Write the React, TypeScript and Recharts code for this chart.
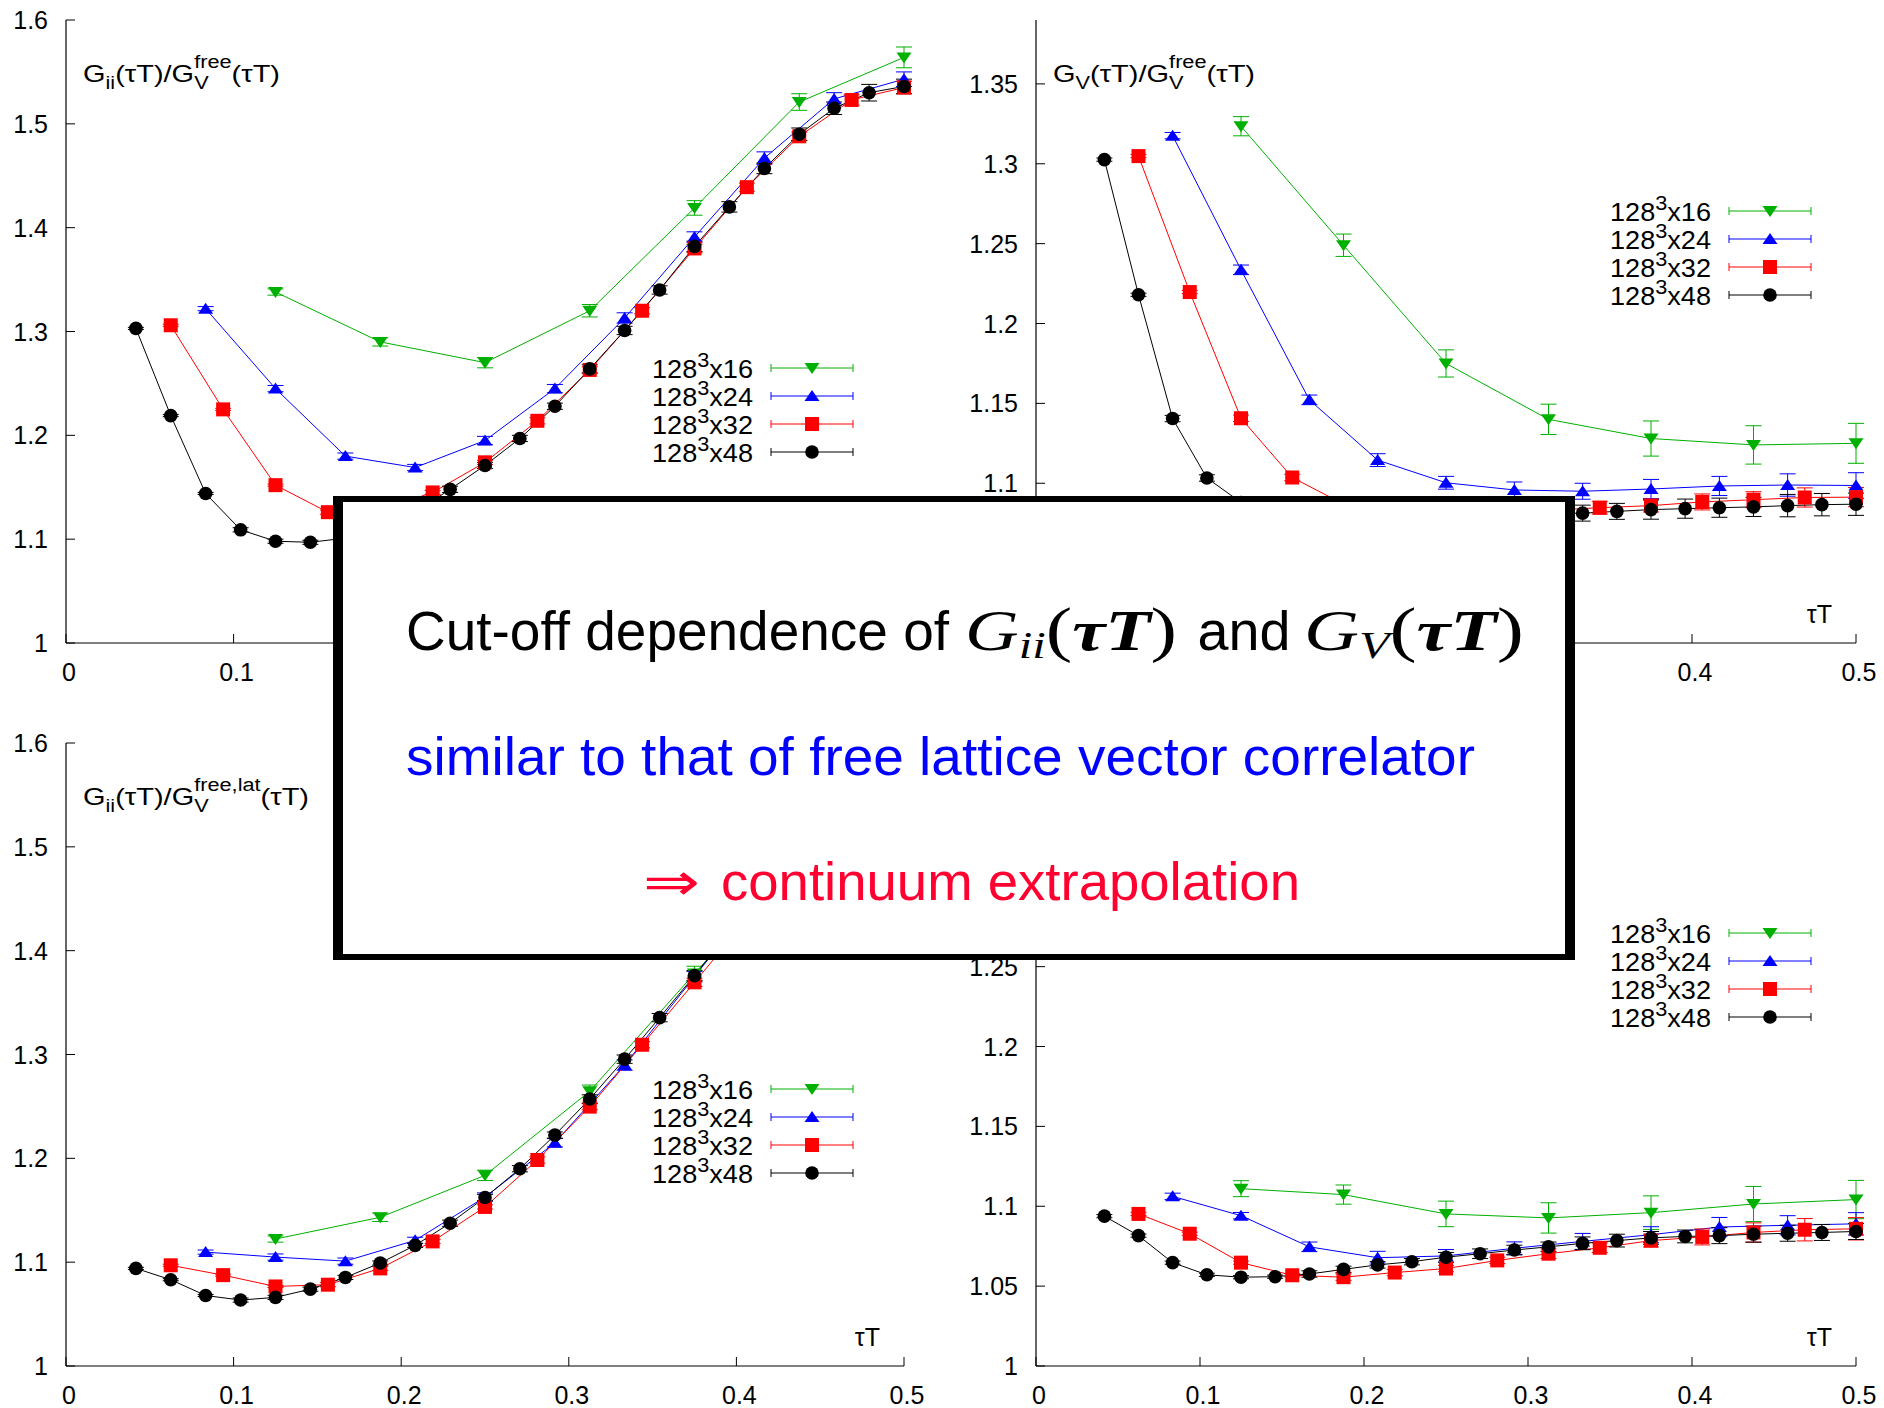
import { LineChart, Line, XAxis, YAxis, ErrorBar, Legend } from 'recharts';

const SANS = '"Liberation Sans", Arial, Helvetica, sans-serif';
const SERIF = '"Liberation Serif", "DejaVu Serif", serif';

// tau*T positions of the four lattices (N_tau = 16, 24, 32, 48)
const tau16 = [0.125, 0.1875, 0.25, 0.3125, 0.375, 0.4375, 0.5];
const tau24 = [0.0833, 0.125, 0.1667, 0.2083, 0.25, 0.2917, 0.3333, 0.375, 0.4167, 0.4583, 0.5];
const tau32 = [0.0625, 0.09375, 0.125, 0.15625, 0.1875, 0.21875, 0.25, 0.28125, 0.3125, 0.34375, 0.375, 0.40625, 0.4375, 0.46875, 0.5];
const tau48 = [0.0417, 0.0625, 0.0833, 0.1042, 0.125, 0.1458, 0.1667, 0.1875, 0.2083, 0.2292, 0.25, 0.2708, 0.2917, 0.3125, 0.3333, 0.3542, 0.375, 0.3958, 0.4167, 0.4375, 0.4583, 0.4792, 0.5];

// top left: G_ii / G_V^free
const iiFree16 = [1.338, 1.29, 1.27, 1.32, 1.419, 1.521, 1.564];
const iiFree16Err = [0.003, 0.004, 0.005, 0.006, 0.007, 0.008, 0.01];
const iiFree24 = [1.322, 1.245, 1.18, 1.169, 1.195, 1.245, 1.313, 1.391, 1.467, 1.524, 1.543];
const iiFree24Err = [0.002, 0.003, 0.003, 0.003, 0.004, 0.004, 0.005, 0.005, 0.006, 0.006, 0.007];
const iiFree32 = [1.306, 1.225, 1.152, 1.126, 1.128, 1.145, 1.174, 1.214, 1.263, 1.32, 1.38, 1.439, 1.488, 1.523, 1.535];
const iiFree32Err = [0.001, 0.001, 0.001, 0.002, 0.002, 0.002, 0.002, 0.003, 0.003, 0.003, 0.004, 0.004, 0.004, 0.005, 0.006];
const iiFree48 = [1.303, 1.219, 1.144, 1.109, 1.098, 1.097, 1.101, 1.11, 1.126, 1.148, 1.171, 1.197, 1.228, 1.264, 1.301, 1.34, 1.382, 1.42, 1.457, 1.49, 1.515, 1.53, 1.536];
const iiFree48Err = [0.001, 0.001, 0.001, 0.002, 0.002, 0.002, 0.002, 0.002, 0.002, 0.003, 0.003, 0.003, 0.003, 0.004, 0.004, 0.004, 0.005, 0.005, 0.005, 0.006, 0.006, 0.008, 0.007];

// top right: G_V / G_V^free
const vFree16 = [1.3235, 1.249, 1.175, 1.14, 1.128, 1.124, 1.125];
const vFree16Err = [0.006, 0.007, 0.0085, 0.0095, 0.011, 0.012, 0.0125];
const vFree24 = [1.3176, 1.2336, 1.1522, 1.1145, 1.1003, 1.0958, 1.095, 1.0964, 1.0983, 1.0989, 1.0986];
const vFree24Err = [0.002, 0.003, 0.003, 0.004, 0.004, 0.005, 0.005, 0.006, 0.006, 0.007, 0.008];
const vFree32 = [1.3048, 1.2197, 1.1407, 1.1036, 1.087, 1.082, 1.08, 1.081, 1.083, 1.0847, 1.086, 1.0883, 1.0897, 1.0911, 1.0913];
const vFree32Err = [0.001, 0.001, 0.002, 0.002, 0.002, 0.003, 0.003, 0.003, 0.004, 0.004, 0.004, 0.005, 0.005, 0.006, 0.006];
const vFree48 = [1.3026, 1.218, 1.1405, 1.1033, 1.088, 1.081, 1.078, 1.077, 1.077, 1.078, 1.079, 1.08, 1.08, 1.081, 1.0813, 1.0824, 1.0835, 1.0841, 1.0847, 1.0852, 1.086, 1.0866, 1.0869];
const vFree48Err = [0.001, 0.001, 0.002, 0.002, 0.002, 0.003, 0.003, 0.003, 0.003, 0.004, 0.004, 0.004, 0.005, 0.005, 0.005, 0.005, 0.006, 0.006, 0.006, 0.006, 0.007, 0.007, 0.007];

// bottom left: G_ii / G_V^free,lat
const iiLat16 = [1.1223, 1.1432, 1.1836, 1.2646, 1.378, 1.49, 1.56];
const iiLat16Err = [0.003, 0.004, 0.005, 0.006, 0.007, 0.008, 0.01];
const iiLat24 = [1.1097, 1.1049, 1.101, 1.121, 1.1627, 1.215, 1.2898, 1.375, 1.46, 1.52, 1.55];
const iiLat24Err = [0.002, 0.003, 0.003, 0.003, 0.004, 0.004, 0.005, 0.005, 0.006, 0.006, 0.007];
const iiLat32 = [1.097, 1.0875, 1.0766, 1.0783, 1.094, 1.12, 1.1532, 1.1984, 1.2498, 1.3094, 1.3695, 1.43, 1.48, 1.52, 1.54];
const iiLat32Err = [0.001, 0.001, 0.001, 0.002, 0.002, 0.002, 0.002, 0.003, 0.003, 0.003, 0.004, 0.004, 0.004, 0.005, 0.006];
const iiLat48 = [1.094, 1.0831, 1.0679, 1.0635, 1.0661, 1.074, 1.0853, 1.0992, 1.1162, 1.1375, 1.1623, 1.19, 1.2224, 1.2572, 1.2955, 1.3355, 1.376, 1.418, 1.457, 1.49, 1.52, 1.54, 1.55];
const iiLat48Err = [0.001, 0.001, 0.001, 0.002, 0.002, 0.002, 0.002, 0.002, 0.002, 0.003, 0.003, 0.003, 0.003, 0.004, 0.004, 0.004, 0.005, 0.005, 0.005, 0.006, 0.006, 0.007, 0.007];

// bottom right: G_V / G_V^free,lat
const vLat16 = [1.111, 1.1073, 1.0952, 1.0927, 1.096, 1.1014, 1.1042];
const vLat16Err = [0.005, 0.006, 0.008, 0.0095, 0.0105, 0.011, 0.012];
const vLat24 = [1.1062, 1.0941, 1.0746, 1.0678, 1.0689, 1.0737, 1.078, 1.0822, 1.087, 1.0881, 1.089];
const vLat24Err = [0.002, 0.002, 0.003, 0.004, 0.004, 0.004, 0.005, 0.005, 0.006, 0.006, 0.007];
const vLat32 = [1.0952, 1.0828, 1.0647, 1.0568, 1.0556, 1.0585, 1.061, 1.0661, 1.0703, 1.074, 1.0785, 1.0808, 1.0836, 1.0853, 1.0859];
const vLat32Err = [0.001, 0.001, 0.001, 0.001, 0.002, 0.002, 0.002, 0.002, 0.003, 0.003, 0.004, 0.005, 0.006, 0.007, 0.007];
const vLat48 = [1.0938, 1.0816, 1.0647, 1.0571, 1.0556, 1.0559, 1.0576, 1.0605, 1.0633, 1.0653, 1.0681, 1.0703, 1.0726, 1.0746, 1.0768, 1.0785, 1.0802, 1.0811, 1.0816, 1.0825, 1.0831, 1.0836, 1.0842];
const vLat48Err = [0.001, 0.001, 0.001, 0.001, 0.001, 0.001, 0.002, 0.002, 0.002, 0.002, 0.003, 0.003, 0.003, 0.003, 0.004, 0.004, 0.004, 0.004, 0.005, 0.005, 0.005, 0.005, 0.005];

const xTicks = [0, 0.1, 0.2, 0.3, 0.4, 0.5];
const yTicksWide = [1, 1.1, 1.2, 1.3, 1.4, 1.5, 1.6];
const yTicksNarrow = [1, 1.05, 1.1, 1.15, 1.2, 1.25, 1.3, 1.35];

const ntLabels = ['16', '24', '32', '48'];
const colors = ['#00b000', '#0000ff', '#ff0000', '#000000'];
const shapes = ['down', 'up', 'square', 'circle'];

const PLOT_H = 623;
const TOP = 20;
const YW = 66;
const RIGHT = 20;
const XH = 42;

const rows = (xs: number[], ys: number[], es: number[]) => xs.map((x, i) => ({ x, y: ys[i], e: es[i] }));

function marker(shape: string, cx: number, cy: number, color: string, key?: any) {
    if (shape === 'down') return <path key={key} d={`M${cx - 7.5},${cy - 5} L${cx + 7.5},${cy - 5} L${cx},${cy + 6} Z`} fill={color} />;
    if (shape === 'up') return <path key={key} d={`M${cx - 7.5},${cy + 5} L${cx + 7.5},${cy + 5} L${cx},${cy - 6} Z`} fill={color} />;
    if (shape === 'square') return <rect key={key} x={cx - 7} y={cy - 7} width={14} height={14} fill={color} />;
    return <circle key={key} cx={cx} cy={cy} r={6.8} fill={color} />;
}

const BottomTick = (p: any) => (
    <g>
        <line x1={p.x} x2={p.x} y1={p.y} y2={p.y - 9} stroke="#000" />
        <text x={p.x + 3} y={p.y + 38} textAnchor="middle" fontSize={25} fontFamily={SANS} fill="#000">{String(p.payload.value)}</text>
    </g>
);
const TopTick = (p: any) => <line x1={p.x} x2={p.x} y1={p.y} y2={p.y + 9} stroke="#000" />;
const LeftTick = (p: any) => (
    <g>
        <line x1={p.x} x2={p.x + 9} y1={p.y} y2={p.y} stroke="#000" />
        <text x={p.x - 18} y={p.y + 9} textAnchor="end" fontSize={25} fontFamily={SANS} fill="#000">{String(p.payload.value)}</text>
    </g>
);
const RightTick = (p: any) => <line x1={p.x} x2={p.x - 9} y1={p.y} y2={p.y} stroke="#000" />;

function LegendRows() {
    return (
        <svg width={240} height={124} style={{ display: 'block', overflow: 'visible' }}>
            {ntLabels.map((n, i) => {
                const y = 16 + i * 28;
                return (
                    <g key={n}>
                        <text x={11} y={y + 9.5} fontSize={25} fontFamily={SANS} fill="#000" textLength={101} lengthAdjust="spacingAndGlyphs">
                            128<tspan dy={-11} fontSize={20}>3</tspan><tspan dy={11}>x{n}</tspan>
                        </text>
                        <line x1={130} x2={212} y1={y} y2={y} stroke={colors[i]} />
                        <line x1={130} x2={130} y1={y - 4} y2={y + 4} stroke={colors[i]} />
                        <line x1={212} x2={212} y1={y - 4} y2={y + 4} stroke={colors[i]} />
                        {marker(shapes[i], 171, y, colors[i])}
                    </g>
                );
            })}
        </svg>
    );
}

function Title({ x, y, num, den, len }: { x: number; y: number; num: string; den: string; len: number }) {
    const vw = 12;
    return (
        <text x={x} y={y} fontSize={24} fontFamily={SANS} fill="#000" textLength={len} lengthAdjust="spacingAndGlyphs">
            G<tspan dy={7} fontSize={18}>{num}</tspan>
            <tspan dy={-7}>(τT)/G</tspan>
            <tspan dy={7} fontSize={18}>V</tspan>
            <tspan dx={-vw} dy={-21} fontSize={18}>{den}</tspan>
            <tspan dy={14}>(τT)</tspan>
        </text>
    );
}

interface PanelProps {
    left: number;
    top: number;
    plotW: number;
    yDomain: [number, number];
    yTicks: number[];
    series: { x: number; y: number; e: number }[][];
    num: string;
    den: string;
    titleLen: number;
    showTitle: boolean;
    showTau: boolean;
    legendLeft: number;
    legendTop: number;
}

function Panel({ left, top, plotW, yDomain, yTicks, series, num, den, titleLen, showTitle, showTau, legendLeft, legendTop }: PanelProps) {
    const W = YW + plotW + RIGHT;
    const H = TOP + PLOT_H + XH;
    return (
        <div style={{ position: 'absolute', left, top, width: W, height: H }}>
            <LineChart width={W} height={H} margin={{ top: TOP, right: RIGHT, bottom: 0, left: 0 }}>
                <XAxis type="number" dataKey="x" domain={[0, 0.5]} ticks={xTicks} interval={0} height={XH}
                    tickSize={0} tickMargin={0} tickLine={false} axisLine={{ stroke: '#000', strokeWidth: 1.2 }} tick={BottomTick} />
                <XAxis xAxisId="top" orientation="top" type="number" domain={[0, 0.5]} ticks={xTicks} interval={0} height={0}
                    tickSize={0} tickMargin={0} tickLine={false} axisLine={{ stroke: '#000', strokeWidth: 1.2 }} tick={TopTick} allowDataOverflow />
                <YAxis type="number" domain={yDomain} ticks={yTicks} interval={0} width={YW}
                    tickSize={0} tickMargin={0} tickLine={false} axisLine={{ stroke: '#000', strokeWidth: 1.2 }} tick={LeftTick} />
                <YAxis yAxisId="right" orientation="right" type="number" domain={yDomain} ticks={yTicks} interval={0} width={0}
                    tickSize={0} tickMargin={0} tickLine={false} axisLine={{ stroke: '#000', strokeWidth: 1.2 }} tick={RightTick} allowDataOverflow />
                {series.map((d, i) => (
                    <Line key={ntLabels[i]} data={d} dataKey="y" type="linear" stroke={colors[i]} strokeWidth={1}
                        isAnimationActive={false} activeDot={false}
                        dot={(p: any) => marker(shapes[i], p.cx, p.cy, colors[i], `d${i}-${p.index}`)}>
                        <ErrorBar dataKey="e" direction="y" width={8} stroke={colors[i]} strokeWidth={1} isAnimationActive={false} />
                    </Line>
                ))}
                <Legend content={() => <LegendRows />} layout="vertical" align="center" verticalAlign="middle"
                    wrapperStyle={{ left: legendLeft, top: legendTop, width: 240, height: 124 }} />
            </LineChart>
            <svg width={W} height={H} style={{ position: 'absolute', left: 0, top: 0, pointerEvents: 'none' }}>
                {showTitle && <Title x={YW + 17} y={TOP + 62} num={num} den={den} len={titleLen} />}
                {showTau && <text x={YW + plotW - 24} y={TOP + PLOT_H - 20} textAnchor="end" fontSize={25} fontFamily={SANS} fill="#000">τT</text>}
            </svg>
        </div>
    );
}

function NoteBox() {
    return (
        <svg width={1884} height={1408} style={{ position: 'absolute', left: 0, top: 0, pointerEvents: 'none' }}>
            <rect x={333} y={496} width={1242} height={464} fill="#000" />
            <rect x={343} y={502} width={1222} height={452} fill="#fff" />
            <text x={406} y={650} fontSize={56} fontFamily={SANS} fill="#000" textLength={543} lengthAdjust="spacingAndGlyphs">Cut-off dependence of</text>
            <text x={965} y={650} fontSize={58} fontFamily={SERIF} fontStyle="italic" fill="#000" textLength={212} lengthAdjust="spacingAndGlyphs">
                G<tspan dy={8} fontSize={38}>ii</tspan><tspan dy={-8} fontStyle="normal" fontSize={62}>(</tspan><tspan fontWeight="bold">τT</tspan><tspan fontStyle="normal" fontSize={62}>)</tspan>
            </text>
            <text x={1197.5} y={650} fontSize={56} fontFamily={SANS} fill="#000" textLength={93} lengthAdjust="spacingAndGlyphs">and</text>
            <text x={1304} y={650} fontSize={58} fontFamily={SERIF} fontStyle="italic" fill="#000" textLength={220} lengthAdjust="spacingAndGlyphs">
                G<tspan dy={8} fontSize={38}>V</tspan><tspan dy={-8} fontStyle="normal" fontSize={62}>(</tspan><tspan fontWeight="bold">τT</tspan><tspan fontStyle="normal" fontSize={62}>)</tspan>
            </text>
            <text x={406} y={775} fontSize={53} fontFamily={SANS} fill="#0000ff" textLength={1069} lengthAdjust="spacingAndGlyphs">similar to that of free lattice vector correlator</text>
            <text x={643} y={900} fontSize={53} fontFamily='"DejaVu Sans", sans-serif' fill="#ff0030" textLength={57} lengthAdjust="spacingAndGlyphs">⇒</text>
            <text x={721} y={900} fontSize={53} fontFamily={SANS} fill="#ff0030" textLength={579} lengthAdjust="spacingAndGlyphs">continuum extrapolation</text>
        </svg>
    );
}

export default function App() {
    return (
        <div style={{ position: 'absolute', left: 0, top: 0, width: 1884, height: 1408, background: '#fff', overflow: 'hidden' }}>
            <Panel left={0} top={0} plotW={838} yDomain={[1, 1.6]} yTicks={yTicksWide} num="ii" den="free"
                titleLen={197} showTitle showTau={false} legendLeft={641} legendTop={351.5}
                series={[rows(tau16, iiFree16, iiFree16Err), rows(tau24, iiFree24, iiFree24Err), rows(tau32, iiFree32, iiFree32Err), rows(tau48, iiFree48, iiFree48Err)]} />
            <Panel left={970} top={0} plotW={820} yDomain={[1, 1.39]} yTicks={yTicksNarrow} num="V" den="free"
                titleLen={202} showTitle showTau legendLeft={629} legendTop={194.7}
                series={[rows(tau16, vFree16, vFree16Err), rows(tau24, vFree24, vFree24Err), rows(tau32, vFree32, vFree32Err), rows(tau48, vFree48, vFree48Err)]} />
            <Panel left={0} top={723} plotW={838} yDomain={[1, 1.6]} yTicks={yTicksWide} num="ii" den="free,lat"
                titleLen={226} showTitle showTau legendLeft={641} legendTop={350}
                series={[rows(tau16, iiLat16, iiLat16Err), rows(tau24, iiLat24, iiLat24Err), rows(tau32, iiLat32, iiLat32Err), rows(tau48, iiLat48, iiLat48Err)]} />
            <Panel left={970} top={723} plotW={820} yDomain={[1, 1.39]} yTicks={yTicksNarrow} num="V" den="free,lat"
                titleLen={231} showTitle={false} showTau legendLeft={629} legendTop={194.4}
                series={[rows(tau16, vLat16, vLat16Err), rows(tau24, vLat24, vLat24Err), rows(tau32, vLat32, vLat32Err), rows(tau48, vLat48, vLat48Err)]} />
            <NoteBox />
        </div>
    );
}
